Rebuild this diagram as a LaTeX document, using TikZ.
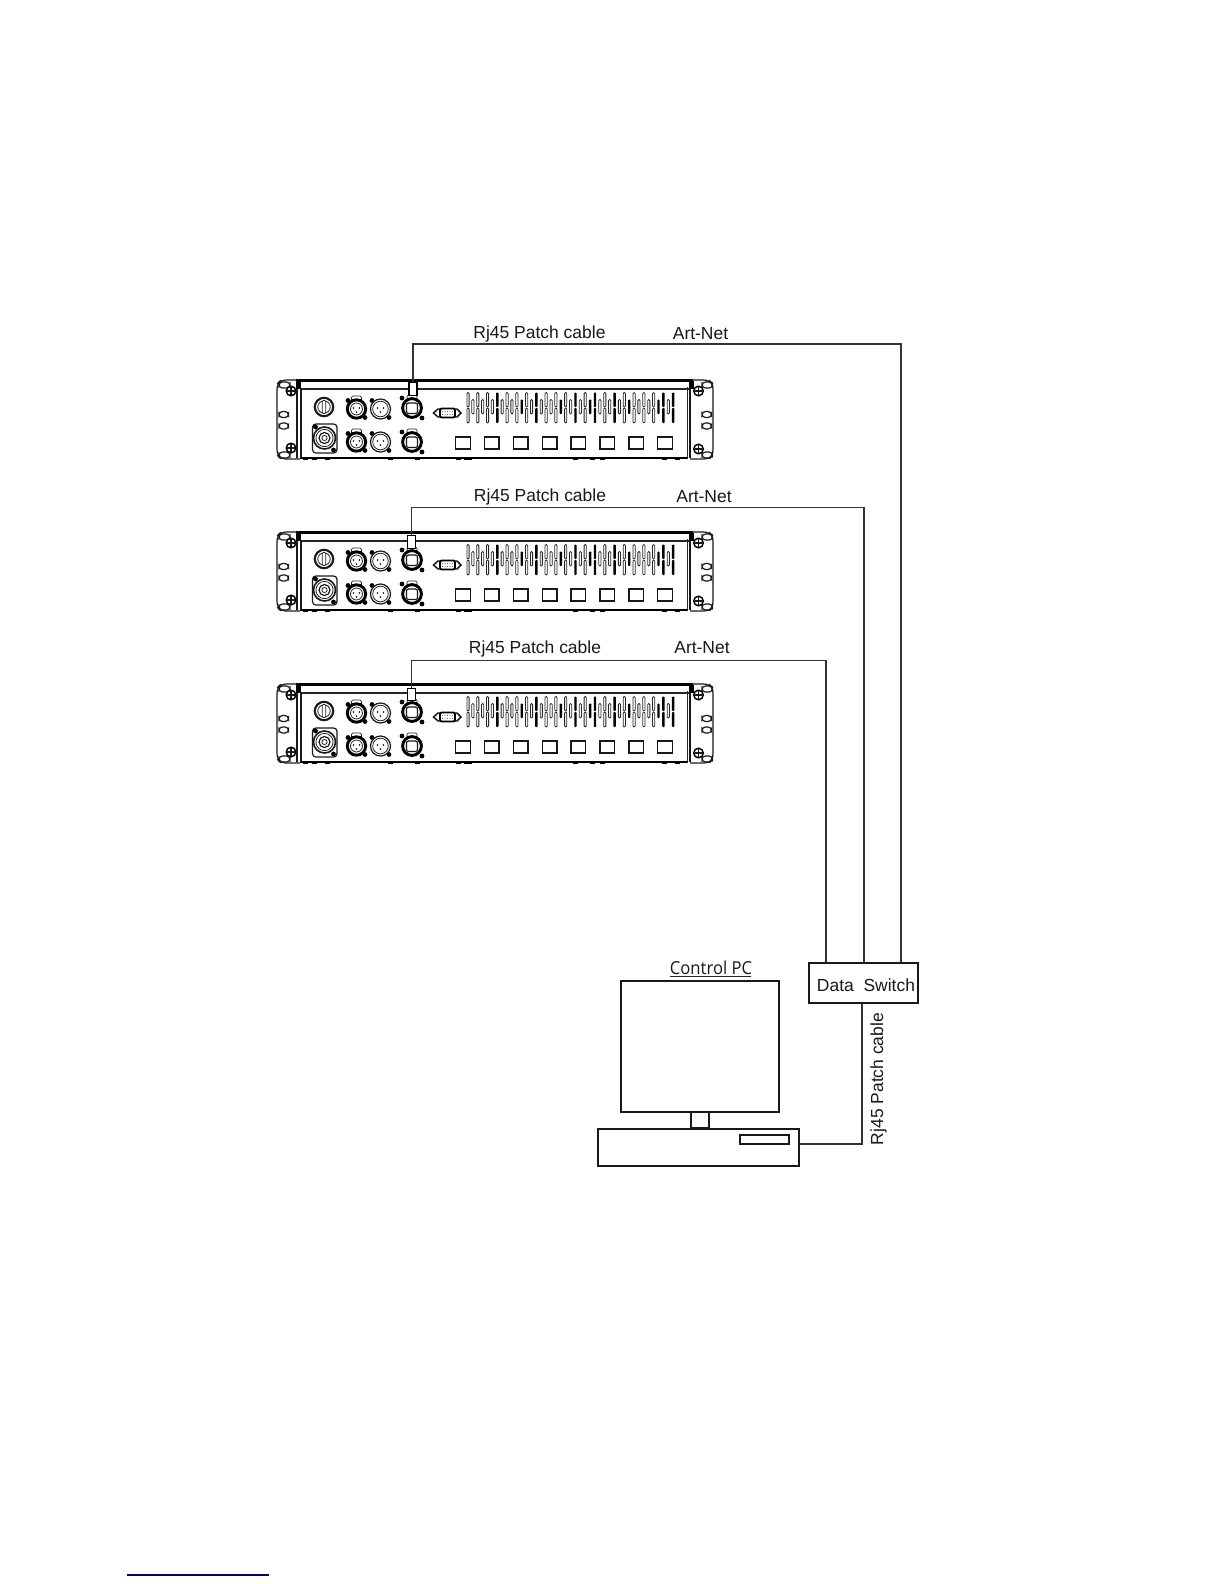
\documentclass[tikz,border=0pt]{standalone}
\usepackage{fontspec}
\setmainfont{Liberation Sans}
\newfontfamily\pcfont{Open Sans}
\tikzset{
 ln/.style={draw=black!90,line width=0.9pt},
 thin ln/.style={draw=black!85,line width=0.6pt},
 thick ln/.style={draw=black,line width=1.6pt},
 cable/.style={draw=black!80,line width=0.95pt},
 lbl/.style={font=\fontsize{13.1}{15}\selectfont,text=black!90,inner sep=0pt},
 boxn/.style={draw=black!90,line width=1.1pt,fill=white,inner sep=0pt,rectangle},
 plugbox/.style={draw=black,line width=0.8pt,fill=white,inner sep=0pt,rectangle,minimum width=6pt,minimum height=9.5pt},
}
% screw
\newcommand{\screw}[2]{\draw[draw=black,line width=1.1pt,fill=white] (#1,#2) circle (4.8);
 \draw[ln] (#1-4,#2)--(#1+4,#2) (#1,#2-4)--(#1,#2+4);}
\newcommand{\slotx}[3]{\draw[ln,rounded corners=2.6pt] (#1,#2) rectangle (#3,#2+6);}
\newcommand{\xlrA}[2]{%
 \fill[black] (#1-8.5,#2-8.5) circle (2.4) (#1+8.5,#2+8.5) circle (2.4);
 \draw[thin ln,fill=white,rounded corners=1pt] (#1-5,#2-13) rectangle (#1+5,#2-8);
 \draw[draw=black,line width=2.2pt,fill=white] (#1,#2) circle (9.2);
 \draw[thin ln] (#1,#2) circle (6);
 \fill[black] (#1-3,#2-1) circle (.9) (#1+3,#2-1) circle (.9) (#1,#2+3) circle (.9);}
\newcommand{\xlrB}[2]{%
 \fill[black] (#1-8.5,#2-8.5) circle (2.4) (#1+8.5,#2+8.5) circle (2.4);
 \draw[ln,fill=white] (#1,#2) circle (10);
 \draw[thin ln] (#1,#2) circle (7.8);
 \fill[black] (#1-3,#2-1) circle (.9) (#1+3,#2-1) circle (.9) (#1,#2+3) circle (.9);}
\newcommand{\rjack}[2]{%
 \fill[black] (#1-10,#2-10) circle (2.4) (#1+10,#2+10) circle (2.4);
 \draw[thin ln,fill=white,rounded corners=1pt] (#1-5,#2-13) rectangle (#1+5,#2-8);
 \draw[draw=black,line width=2.2pt,fill=white] (#1,#2) circle (9.4);
 \draw[ln,rounded corners=1.5pt] (#1-5.5,#2-5) rectangle (#1+5.5,#2+5.5);}
% rack: #1 name, #2 y offset, #3 plug x, #4 plug centre y
\newcommand{\rack}[4]{%
\begin{scope}[shift={(0,#2)}]
 % ears
 \draw[ln,rounded corners=4pt] (300,379)--(281,379)--(277,383)--(277,454)--(281,458)--(300,458);
 \draw[ln,rounded corners=4pt] (690,379)--(709,379)--(713,383)--(713,454)--(709,458)--(690,458);
 \foreach \yy in {381,451}{\slotx{279}{\yy}{290}\slotx{702}{\yy}{712.5}}
 \foreach \yy in {410.5,422}{\slotx{279}{\yy}{288.5}\slotx{702}{\yy}{711.5}}
 \screw{291}{390}\screw{291}{447}\screw{698.5}{390}\screw{698.5}{448}
 % body
 \draw[thick ln] (296,379.5)--(693,379.5);
 \draw[thin ln,line width=.8pt] (300,388)--(690,388);
 \draw[thick ln] (300,457)--(688,457);
 \draw[ln] (297,380)--(297,457);
 \draw[ln,line width=1.2pt] (301,388)--(301,457);
 \draw[thin ln] (687,386)--(687,457);
 \draw[ln] (690,380)--(690,457);
 \fill[black] (296,380) rectangle (301,388);
 \fill[black] (689,380) rectangle (693.5,388);
 \foreach \fx in {303,312,325,388,415,456,464,467,573,590,600,662,675}{\fill[black] (\fx,457) rectangle (\fx+5,459);}
 % power
 \draw[draw=black!90,fill=white,line width=1.6pt] (324,406) circle (9.2);
 \draw[thin ln] (324,406) circle (6.2);
 \draw[thin ln,fill=white,rounded corners=.8pt] (322.3,399.5) rectangle (325.7,412.5);
 % speakon
 \draw[ln,fill=white,rounded corners=2.5pt] (312.5,423) rectangle (337,452);
 \fill[black] (315.5,426) circle (2.4) (333.5,449) circle (2.4);
 \draw[ln,fill=white,line width=1.2pt] (324.5,437) circle (11);
 \draw[thin ln] (324.5,437) circle (8.6);
 \draw[ln] (324.5,437) circle (5.5);
 \draw[thin ln] (324.5,437) circle (2.6);
 % XLR
 \xlrA{356.5}{408}\xlrB{380.5}{408}\xlrA{356.5}{441}\xlrB{380.5}{441}
 % RJ45
 \rjack{412}{407}\rjack{412}{441}
 % DB9
 \draw[ln,fill=white,line width=1.1pt] (433.5,412)--(438,408)--(457,408)--(461,412)--(457,416)--(438,416)--cycle;
 \draw[draw=black,line width=1.4pt,fill=white,rounded corners=1pt] (440,407.5) rectangle (455,416.5);
 \foreach \dx in {442.5,445,447.5,450,452.5}{\fill[black!70] (\dx,410.5) circle (.5) (\dx,413.5) circle (.5);}
 % vents
 \foreach \k in {0,...,21}{
  \pgfmathsetmacro\vx{468+9.77*\k}
  \pgfmathtruncatemacro\isb{(\k==3||\k==7||\k==11||\k==13||\k==15||\k==20||\k==21)?1:0}
  \ifnum\isb=1
   \fill[black,rounded corners=.6pt] (\vx-1.2,391.5) rectangle (\vx+1.2,406);
   \fill[black,rounded corners=.6pt] (\vx-1.2,407) rectangle (\vx+1.2,422);
  \else
   \draw[thin ln,rounded corners=.8pt] (\vx-1.1,391.5) rectangle (\vx+1.1,406);
   \draw[thin ln,rounded corners=.8pt] (\vx-1.1,407) rectangle (\vx+1.1,422);
  \fi
  \ifnum\k<21
  \pgfmathsetmacro\wx{\vx+4.9}
  \pgfmathtruncatemacro\isc{(\k==5||\k==9||\k==12||\k==16||\k==19)?1:0}
  \ifnum\isc=1
   \fill[black,rounded corners=.6pt] (\wx-1.2,398.5) rectangle (\wx+1.2,413);
  \else
   \draw[thin ln,rounded corners=.8pt] (\wx-1.1,398.5) rectangle (\wx+1.1,413);
  \fi
  \fi
 }
 % buttons
 \foreach \k in {0,...,7}{
  \pgfmathsetmacro\bx{463+28.85*\k}
  \draw[ln,line width=1.05pt,fill=white] (\bx-7.3,436) rectangle (\bx+7.3,448);
 }
 \node[plugbox] (#1) at (#3,#4) {};
\end{scope}}
\begin{document}
\begin{tikzpicture}[x=0.75pt,y=-0.75pt]
\useasboundingbox (0,0) rectangle (1224,1584);
\fill[white] (0,0) rectangle (1224,1584);
\rack{plugA}{1}{413}{388}
\rack{plugB}{153}{411.5}{389}
\rack{plugC}{305}{411.5}{389.5}
% switch and PC
\node[boxn,minimum width=82pt,minimum height=30pt] (sw) at (863.5,983) {};
\node[lbl] (swl) at (866,985.5) {Data\ \ Switch};
\node[boxn,minimum width=118.5pt,minimum height=98.5pt] (mon) at (700,1046.5) {};
\node[boxn,minimum width=13.5pt,minimum height=12pt] (neck) at (700,1120) {};
\node[boxn,minimum width=150.5pt,minimum height=28pt] (base) at (698.5,1147.5) {};
\node[boxn,minimum width=36.5pt,minimum height=6.7pt] (drv) at (764.5,1139.5) {};
\node[font=\pcfont\fontsize{13.4}{15}\selectfont,text=black!90,inner sep=0pt,xscale=.93] (pc) at (711,967.5) {Control PC};
\draw[thin ln] (670,976.5)--(751,976.5);
% cables
\coordinate (a1) at (901,344);
\coordinate (a2) at (864,507.5);
\coordinate (a3) at (826,660.5);
\coordinate (a4) at (862,1144);
\draw[cable] (plugA.north) |- (a1) -- (a1 |- sw.north);
\draw[cable] (plugB.north) |- (a2) -- (a2 |- sw.north);
\draw[cable,line width=1.05pt] (plugC.north) |- (a3) -- (a3 |- sw.north);
\draw[cable,line width=1.3pt] (sw.south -| a4) -- (a4) -- (base.east |- a4);
% labels
\node[lbl] (t1) at (539.5,333.5) {Rj45 Patch cable};
\node[lbl] (n1) at (700.5,334) {Art-Net};
\node[lbl] (t2) at (540,496.5) {Rj45 Patch cable};
\node[lbl] (n2) at (704,497) {Art-Net};
\node[lbl] (t3) at (535,648.5) {Rj45 Patch cable};
\node[lbl] (n3) at (702,648) {Art-Net};
\node[lbl,rotate=90] (t4) at (878.5,1079) {Rj45 Patch cable};
% footer rule
\coordinate (r1) at (127,1575);
\coordinate (r2) at (269,1575);
\draw[draw=blue!45!black,line width=.9pt] (r1)--(r2);
\end{tikzpicture}
\end{document}
